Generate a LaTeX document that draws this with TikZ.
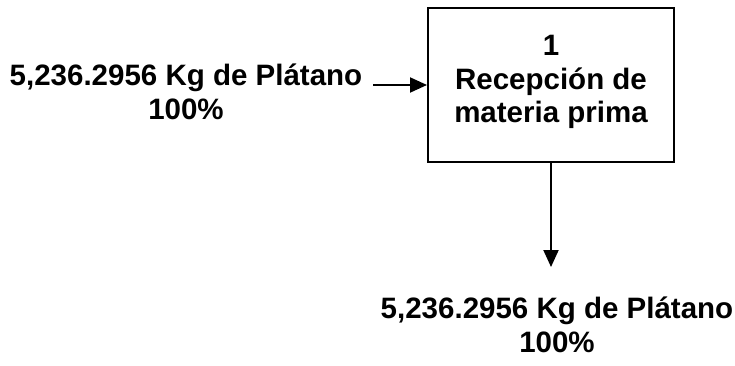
\documentclass[tikz,border=0pt]{standalone}
\usepackage{fontspec}
\setmainfont{Liberation Sans}
\usetikzlibrary{arrows.meta}
\begin{document}
\begin{tikzpicture}[x=1pt,y=1pt,
  lbl/.style={font=\fontsize{29.5}{33.5}\selectfont\bfseries, align=center, inner sep=0pt},
  arr/.style={line width=2pt, -{Triangle[length=17pt,width=15pt]}},
  procbox/.style={draw, line width=2pt, minimum width=246pt, minimum height=154pt, inner sep=0pt}]
\useasboundingbox (0,0) rectangle (735,-366);
\node[procbox] (box) at (551,-85) {};
\node[lbl] (boxtxt) at (551,-82) {1\\Recepción de\\materia prima};
\node[lbl] (inlbl) at (186,-92) {5,236.2956 Kg de Plátano\\100\%};
\node[lbl] (outlbl) at (557,-325) {5,236.2956 Kg de Plátano\\100\%};
\coordinate (inS) at (373,-85);
\coordinate (outE) at (box.south |- 0,-267);
\draw[arr] (inS) -- (box.west |- inS);
\draw[arr] (box.south) -- (outE);
\end{tikzpicture}
\end{document}
